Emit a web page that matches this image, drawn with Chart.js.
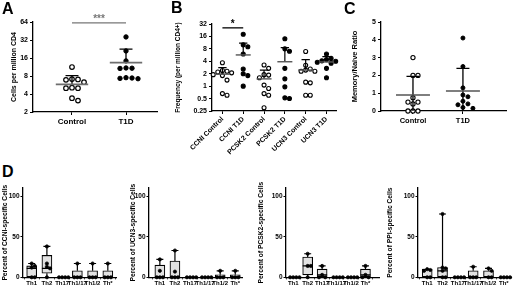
<!DOCTYPE html>
<html><head><meta charset="utf-8">
<script src="https://cdn.jsdelivr.net/npm/chart.js@4.4.1/dist/chart.umd.min.js"></script>
<style>
html,body{margin:0;padding:0;background:#fff;}
#root{position:relative;width:520px;height:286px;overflow:hidden;background:#fff;font-family:"Liberation Sans",Arial,sans-serif;}
.pane{position:absolute;}
.letter{position:absolute;font-weight:bold;font-size:16px;line-height:16px;color:#000;}
</style></head><body>
<div id="root">
  <div class="pane" id="pA" style="left:0px;top:0px;width:165px;height:135px"><canvas id="cA"></canvas></div>
  <div class="pane" id="pB" style="left:170px;top:0px;width:172px;height:180px"><canvas id="cB"></canvas></div>
  <div class="pane" id="pC" style="left:340px;top:0px;width:172px;height:135px"><canvas id="cC"></canvas></div>
  <div class="pane" id="pD1" style="left:-10.7px;top:180px;width:132px;height:106px"><canvas id="cD1"></canvas></div>
  <div class="pane" id="pD2" style="left:114.7px;top:180px;width:132px;height:106px"><canvas id="cD2"></canvas></div>
  <div class="pane" id="pD3" style="left:252px;top:180px;width:132px;height:106px"><canvas id="cD3"></canvas></div>
  <div class="pane" id="pD4" style="left:384.3px;top:180px;width:132px;height:106px"><canvas id="cD4"></canvas></div>
  <div class="letter" style="left:2px;top:1px">A</div>
  <div class="letter" style="left:171px;top:0px">B</div>
  <div class="letter" style="left:344px;top:1px">C</div>
  <div class="letter" style="left:2px;top:164px">D</div>
</div>
<script>
// ---------------- DATA ----------------
// Panel A
const aGroups = ['Control', 'T1D'];
const aControl = [11.3, 7.0, 7.1, 6.9, 6.3, 5.0, 5.0, 5.1, 3.4, 3.1];
const aT1D = [36, 21, 14.3, 10.8, 10.9, 10.7, 7.5, 7.3, 7.2, 7.4];
const aMean = [5.8, 13.4];
const aSD = [2.3, 9.1];
const aTicks = [2, 4, 8, 16, 32, 64];

// Panel B
const bGroups = ['CCNI Control', 'CCNI T1D', 'PCSK2 Control', 'PCSK2 T1D', 'UCN3 Control', 'UCN3 T1D'];
const bCcniControl = [3.7, 2.4, 2.3, 2.2, 2.1, 1.9, 1.8, 1.4, 0.66, 0.6];
const bCcniT1D = [18, 10, 9, 6, 2.6, 2.0, 1.8, 1.0];
const bPcsk2Control = [3.25, 2.7, 1.9, 1.85, 1.6, 1.06, 0.88, 0.66, 0.6, 0.3];
const bPcsk2T1D = [14, 8, 7, 2.7, 1.5, 0.96, 0.52, 0.5];
const bUcn3Control = [6.9, 3.2, 2.6, 2.45, 2.3, 2.3, 1.25, 1.2, 0.6, 0.6];
const bUcn3T1D = [6.0, 4.7, 4.4, 4.1, 4.0, 3.8, 3.6, 2.7, 1.6];
const bMean = [1.95, 5.7, 1.5, 3.9, 2.45, 3.85];
const bSD = [0.85, 5.3, 0.95, 4.7, 1.95, 1.35];
const bTicks = [0.25, 0.5, 1, 2, 4, 8, 16, 32];

// Panel C
const cGroups = ['Control', 'T1D'];
const cControl = [3.0, 2.0, 2.0, 0.75, 0.5, 0.5, 0.4, 0, 0, 0];
const cT1D = [4.1, 2.5, 1.3, 0.9, 0.8, 0.55, 0.4, 0.35, 0.2, 0.15];
const cMean = [0.9, 1.12];
const cSD = [1.05, 1.28];
const cTicks = [0, 1, 2, 3, 4, 5];

// Panel D  (box stats: [min, q1, median, q3, max])
const dCats = ['Th1', 'Th2', 'Th17', 'Th1/17', 'Th1/2', 'Th*'];
const dTicks = [0, 50, 100];
const dCcniBox = [[0,0,11,14,17],[0,5,11,27,38],[0,0,0,0,0],[0,0,0,8,17],[0,0,0,8,17],[0,0,0,8,17]];
const dCcniPts = [[17,14,12,0,0],[38,17,13,11,0],[0,0,0,0],[17,0,0,0],[17,0,0,0],[17,0,0,0]];
const dUcn3Box = [[0,0,0,15,22],[0,0,0,20,33],[0,0,0,0,0],[0,0,0,0,0],[0,0,0,3,8],[0,0,0,3,8]];
const dUcn3Pts = [[22,8,0,0,0],[33,7,0,0,0],[0,0,0,0],[0,0,0,0],[8,0,0,0],[8,0,0,0]];
const dPcsk2Box = [[0,0,0,0,0],[0,3,14,25,29],[0,0,3,10,14],[0,0,0,0,0],[0,0,0,0,0],[0,0,3,10,14]];
const dPcsk2Pts = [[0,0,0,0],[29,14,14,0],[14,3,0,0],[0,0,0,0],[0,0,0,0],[14,3,0,0]];
const dPpiBox = [[0,0,0,10,10],[0,0,8,12,78],[0,0,0,0,0],[0,0,0,8,13],[0,0,0,8,11],[0,0,0,0,0]];
const dPpiPts = [[10,9,8,0,0],[78,12,11,8,0,0],[0,0,0,0],[13,0,0,0],[11,8,0,0],[0,0,0,0]];

// ---------------- HELPERS ----------------
Chart.defaults.font.family = '"Liberation Sans", Arial, sans-serif';
Chart.defaults.font.weight = 'bold';
Chart.defaults.color = '#000';
Chart.defaults.animation = false;
Chart.defaults.responsive = true;
Chart.defaults.maintainAspectRatio = false;
Chart.defaults.plugins.legend.display = false;
Chart.defaults.plugins.tooltip.enabled = false;
Chart.defaults.events = [];

// simple beeswarm: spreads points of similar value sideways (returns offsets in x data units)
function swarm(vals, yPx, xPx, d) {
  const idx = vals.map((v, i) => i).sort((a, b) => vals[b] - vals[a]);
  const placed = [];
  const off = new Array(vals.length).fill(0);
  idx.forEach(i => {
    const y = yPx(vals[i]);
    let x = 0;
    for (let t = 0; t < 30; t++) {
      const k = t === 0 ? 0 : (t % 2 ? (t + 1) / 2 : -t / 2);
      x = k * d;
      if (!placed.some(p => (p.x - x) ** 2 + (p.y - y) ** 2 < d * d * 0.95)) break;
    }
    placed.push({x, y});
    off[i] = x / xPx;
  });
  return off;
}
function groupPoints(vals, gx, yPx, xPx, d) {
  const off = swarm(vals, yPx, xPx, d);
  return vals.map((v, i) => ({x: gx + off[i], y: v}));
}
function axisBase(tickLen, fontSize, pad) {
  return {
    border: {display: true, color: '#000', width: 1.3},
    grid: {display: true, drawOnChartArea: false, drawTicks: true, tickLength: tickLen, color: '#000', lineWidth: 1},
    ticks: {color: '#000', font: {size: fontSize, weight: 'bold'}, padding: pad, autoSkip: false}
  };
}
function setTicks(list) { return s => { s.ticks = list.map(v => ({value: v})); }; }

function makeMeanSd(groups, o) {
  return {
    id: 'meanSd',
    afterDatasetsDraw(chart) {
      const xs = chart.scales.x, ys = chart.scales.y, ctx = chart.ctx;
      ctx.save();
      groups.forEach(g => {
        const px = xs.getPixelForValue(g.x);
        const pm = ys.getPixelForValue(g.mean);
        const pt = ys.getPixelForValue(g.mean + g.sd);
        const half = Math.abs(xs.getPixelForValue(g.x + o.meanHalf) - px);
        const cap = Math.abs(xs.getPixelForValue(g.x + o.capHalf) - px);
        ctx.strokeStyle = '#000'; ctx.lineWidth = o.barWidth;
        ctx.beginPath();
        ctx.moveTo(px, pm); ctx.lineTo(px, pt);
        ctx.moveTo(px - cap, pt); ctx.lineTo(px + cap, pt);
        if (o.both) {
          const lo = g.mean - g.sd;
          const pb = ys.getPixelForValue(Math.max(ys.min, lo));
          ctx.moveTo(px, pm); ctx.lineTo(px, pb);
          if (lo > ys.min) { ctx.moveTo(px - cap, pb); ctx.lineTo(px + cap, pb); }
        }
        ctx.stroke();
        ctx.strokeStyle = o.meanColor; ctx.lineWidth = o.meanWidth;
        ctx.beginPath(); ctx.moveTo(px - half, pm); ctx.lineTo(px + half, pm); ctx.stroke();
      });
      ctx.restore();
    }
  };
}
function makeSig(s) {
  return {
    id: 'sig',
    afterDatasetsDraw(chart) {
      const xs = chart.scales.x, ys = chart.scales.y, ctx = chart.ctx;
      const x1 = xs.getPixelForValue(s.x1), x2 = xs.getPixelForValue(s.x2), y = ys.getPixelForValue(s.y);
      ctx.save();
      ctx.strokeStyle = s.color; ctx.lineWidth = 1.3;
      ctx.beginPath(); ctx.moveTo(x1, y); ctx.lineTo(x2, y); ctx.stroke();
      ctx.fillStyle = s.color; ctx.font = 'bold ' + s.size + 'px "Liberation Sans", Arial, sans-serif';
      ctx.textAlign = 'center'; ctx.textBaseline = 'alphabetic';
      ctx.fillText(s.text, (x1 + x2) / 2, y - 1);
      ctx.restore();
    }
  };
}

// ---------------- PANEL A ----------------
const aLog = v => -Math.log2(v) * 18;
new Chart(document.getElementById('cA'), {
  type: 'scatter',
  data: {datasets: [
    {data: groupPoints(aControl, 1, aLog, 54, 6), pointRadius: 2.3, pointBorderWidth: 1.2, pointBackgroundColor: '#fff', pointBorderColor: '#000', clip: false},
    {data: groupPoints(aT1D, 2, aLog, 54, 6), pointRadius: 2.2, pointBorderWidth: 1, pointBackgroundColor: '#000', pointBorderColor: '#000', clip: false}
  ]},
  options: {
    layout: {padding: {top: 22, right: 8, left: 0, bottom: 0}},
    scales: {
      x: Object.assign(axisBase(3, 8, 2), {type: 'linear', min: 0.278, max: 2.574,
        afterBuildTicks: setTicks([1, 2]), afterFit: s => { s.height = 23; },
        ticks: {color: '#000', font: {size: 8, weight: 'bold'}, padding: 2, autoSkip: false, maxRotation: 0, callback: v => aGroups[v - 1]}}),
      y: Object.assign(axisBase(3, 7, 2), {type: 'logarithmic', min: 2, max: 64,
        afterBuildTicks: setTicks(aTicks), afterFit: s => { s.width = 33; },
        ticks: {color: '#000', font: {size: 7, weight: 'bold'}, padding: 2, autoSkip: false, callback: v => String(v)},
        title: {display: true, text: 'Cells per million CD4', font: {size: 7, weight: 'bold'}, color: '#000', padding: {top: 10, bottom: 0}}})
    }
  },
  plugins: [
    makeMeanSd(aMean.map((m, i) => ({x: i + 1, mean: m, sd: aSD[i]})), {meanHalf: 0.3, capHalf: 0.12, barWidth: 1.3, meanColor: '#6e6e6e', meanWidth: 1.6, both: false}),
    makeSig({x1: 1, x2: 2, y: 62, text: '***', color: '#777', size: 10})
  ]
});

// ---------------- PANEL B ----------------
const bLog = v => -Math.log2(v) * 12.3;
const bSeries = [bCcniControl, bCcniT1D, bPcsk2Control, bPcsk2T1D, bUcn3Control, bUcn3T1D];
new Chart(document.getElementById('cB'), {
  type: 'scatter',
  data: {datasets: bSeries.map((vals, i) => ({
    data: groupPoints(vals, i, bLog, 20.8, 4.6),
    pointRadius: 2, pointBorderWidth: 1.1,
    pointBackgroundColor: i % 2 ? '#000' : '#fff', pointBorderColor: '#000', clip: false
  }))},
  options: {
    layout: {padding: {top: 24, right: 5, left: 0, bottom: 0}},
    scales: {
      x: Object.assign(axisBase(3, 7, 1), {type: 'linear', min: -0.5, max: 5.5,
        afterBuildTicks: setTicks([0, 1, 2, 3, 4, 5]), afterFit: s => { s.height = 69; },
        ticks: {color: '#000', font: {size: 7, weight: 'bold'}, padding: 1, autoSkip: false, minRotation: 45, maxRotation: 45, callback: v => bGroups[v]}}),
      y: Object.assign(axisBase(3, 7, 2), {type: 'logarithmic', min: 0.25, max: 32,
        afterBuildTicks: setTicks(bTicks), afterFit: s => { s.width = 42; },
        ticks: {color: '#000', font: {size: 7, weight: 'bold'}, padding: 2, autoSkip: false, callback: v => String(v)},
        title: {display: true, text: 'Frequency (per million CD4+)', font: {size: 6.5, weight: 'bold'}, color: '#000', padding: {top: 4, bottom: 0}}})
    }
  },
  plugins: [
    makeMeanSd(bMean.map((m, i) => ({x: i, mean: m, sd: bSD[i]})), {meanHalf: 0.36, capHalf: 0.2, barWidth: 1.2, meanColor: '#555', meanWidth: 1.4, both: false}),
    makeSig({x1: 0, x2: 1, y: 25.8, text: '*', color: '#000', size: 10})
  ]
});

// ---------------- PANEL C ----------------
const cLin = v => -v * 17.8;
new Chart(document.getElementById('cC'), {
  type: 'scatter',
  data: {datasets: [
    {data: groupPoints(cControl, 1, cLin, 50, 5), pointRadius: 2.1, pointBorderWidth: 1.1, pointBackgroundColor: '#fff', pointBorderColor: '#000', clip: false},
    {data: groupPoints(cT1D, 2, cLin, 50, 5), pointRadius: 2, pointBorderWidth: 1, pointBackgroundColor: '#000', pointBorderColor: '#000', clip: false}
  ]},
  options: {
    layout: {padding: {top: 22, right: 5, left: 0, bottom: 0}},
    scales: {
      x: Object.assign(axisBase(3, 7.5, 2), {type: 'linear', min: 0.36, max: 2.88,
        afterBuildTicks: setTicks([1, 2]), afterFit: s => { s.height = 24; },
        ticks: {color: '#000', font: {size: 7.5, weight: 'bold'}, padding: 2, autoSkip: false, maxRotation: 0, callback: v => cGroups[v - 1]}}),
      y: Object.assign(axisBase(3, 7, 2), {type: 'linear', min: 0, max: 5,
        afterBuildTicks: setTicks(cTicks), afterFit: s => { s.width = 41; },
        ticks: {color: '#000', font: {size: 7, weight: 'bold'}, padding: 2, autoSkip: false, callback: v => String(v)},
        title: {display: true, text: 'Memory/Naive Ratio', font: {size: 7.5, weight: 'bold'}, color: '#000', padding: {top: 10.5, bottom: 0}}})
    }
  },
  plugins: [
    makeMeanSd(cMean.map((m, i) => ({x: i + 1, mean: m, sd: cSD[i]})), {meanHalf: 0.34, capHalf: 0.13, barWidth: 1.3, meanColor: '#555', meanWidth: 1.4, both: true})
  ]
});

// ---------------- PANEL D ----------------
function makeBoxes(stats, capPx, halfPx) {
  return {
    id: 'boxes',
    afterDatasetDraw(chart, args) {
      if (args.index !== 1) return;
      const xs = chart.scales.x, ys = chart.scales.y, ctx = chart.ctx;
      ctx.save();
      ctx.strokeStyle = '#000'; ctx.lineWidth = 1.2;
      stats.forEach((b, i) => {
        const [mn, q1, md, q3, mx] = b;
        const px = xs.getPixelForValue(i);
        ctx.beginPath();
        if (mx > q3) {
          const a = ys.getPixelForValue(q3), t = ys.getPixelForValue(mx);
          ctx.moveTo(px, a); ctx.lineTo(px, t); ctx.moveTo(px - capPx, t); ctx.lineTo(px + capPx, t);
        }
        if (mn < q1) {
          const a = ys.getPixelForValue(q1), t = ys.getPixelForValue(mn);
          ctx.moveTo(px, a); ctx.lineTo(px, t);
        }
        if (q3 > q1 && md > q1) {
          const m = ys.getPixelForValue(md);
          ctx.moveTo(px - halfPx, m); ctx.lineTo(px + halfPx, m);
        }
        ctx.stroke();
      });
      ctx.restore();
    }
  };
}
const dLin = v => -v * 0.813;
function dChart(id, title, boxes, pts, titlePad, xMin, xMax) {
  const unit = 96 / (xMax - xMin);
  const points = [];
  pts.forEach((vals, i) => { groupPoints(vals, i, dLin, unit, 3.2).forEach(p => points.push(p)); });
  const bars = boxes.map((b, i) => ({x: i, y: [b[1], b[3]]})).filter(o => o.y[1] > o.y[0]);
  new Chart(document.getElementById(id), {
    type: 'scatter',
    data: {datasets: [
      {type: 'scatter', data: points, pointRadius: 1.6, pointBorderWidth: 0.8, pointBackgroundColor: '#000', pointBorderColor: '#000', clip: false},
      {type: 'bar', data: bars, barThickness: 10, backgroundColor: '#e2e2e2', borderColor: '#000', borderWidth: 1.1, borderSkipped: false}
    ]},
    options: {
      layout: {padding: {top: 8, right: 2, left: 0, bottom: 0}},
      scales: {
        x: Object.assign(axisBase(2, 6, 0), {type: 'linear', min: xMin, max: xMax, offset: false,
          afterBuildTicks: setTicks([0, 1, 2, 3, 4, 5]), afterFit: s => { s.height = 8.7; },
          ticks: {color: '#000', font: {size: 6, weight: 'bold'}, padding: 0, autoSkip: false, maxRotation: 0, callback: v => dCats[v]}}),
        y: Object.assign(axisBase(2.5, 6.5, 1), {type: 'linear', min: 0, max: 110,
          afterBuildTicks: setTicks(dTicks), afterFit: s => { s.width = 34; },
          ticks: {color: '#000', font: {size: 6.5, weight: 'bold'}, padding: 1, autoSkip: false, callback: v => String(v)},
          title: {display: true, text: title, font: {size: 6.7, weight: 'bold'}, color: '#000', padding: {top: titlePad, bottom: 0}}})
      }
    },
    plugins: [makeBoxes(boxes, 3.5, 5)]
  });
}
dChart('cD1', 'Percent of CCNI-specific Cells', dCcniBox, dCcniPts, 12.2, -0.57, 5.55);
dChart('cD2', 'Percent of UCN3-specific Cells', dUcn3Box, dUcn3Pts, 14.0, -0.72, 5.46);
dChart('cD3', 'Percent of PCSK2-specific Cells', dPcsk2Box, dPcsk2Pts, 5.4, -0.5, 5.95);
dChart('cD4', 'Percent of PPI-specific Cells', dPpiBox, dPpiPts, 1.8, -0.6, 5.48);
</script>
</body></html>
